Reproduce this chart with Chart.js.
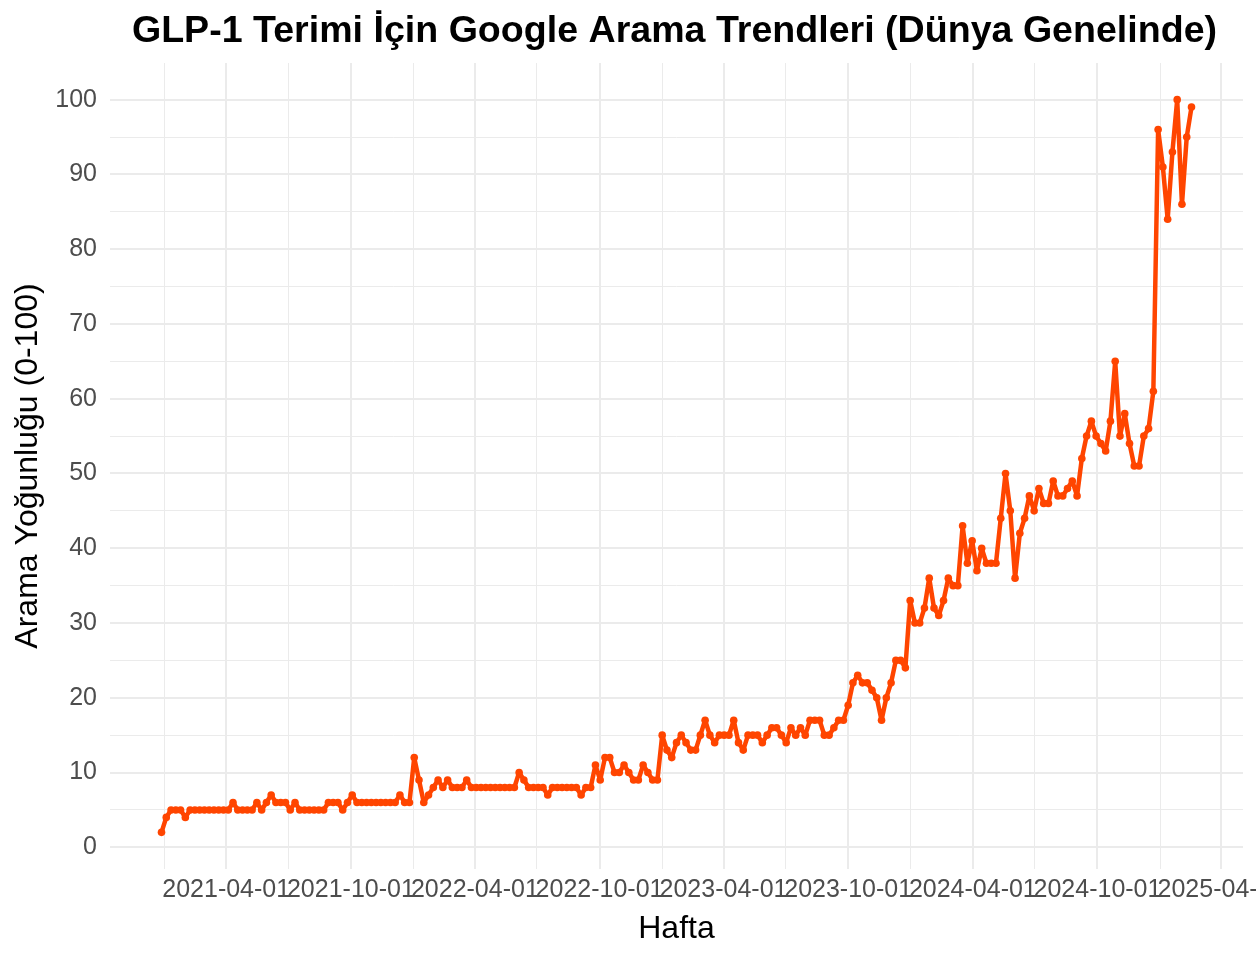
<!DOCTYPE html>
<html>
<head>
<meta charset="utf-8">
<script src="https://cdn.jsdelivr.net/npm/chart.js@4.4.1/dist/chart.umd.min.js"></script>
<style>
    body { margin: 0; background: #fff; }
</style>
</head>
<body>
<canvas id="trendChart" width="1256" height="958"></canvas>
<script>
const TITLE = "GLP-1 Terimi İçin Google Arama Trendleri (Dünya Genelinde)"
const FIRST_WEEK = '2020-12-27'
// weekly search interest, one value per week from FIRST_WEEK
const searchValues = [
    2, 4, 5, 5, 5, 4, 5, 5, 5, 5,
    5, 5, 5, 5, 5, 6, 5, 5, 5, 5,
    6, 5, 6, 7, 6, 6, 6, 5, 6, 5,
    5, 5, 5, 5, 5, 6, 6, 6, 5, 6,
    7, 6, 6, 6, 6, 6, 6, 6, 6, 6,
    7, 6, 6, 12, 9, 6, 7, 8, 9, 8,
    9, 8, 8, 8, 9, 8, 8, 8, 8, 8,
    8, 8, 8, 8, 8, 10, 9, 8, 8, 8,
    8, 7, 8, 8, 8, 8, 8, 8, 7, 8,
    8, 11, 9, 12, 12, 10, 10, 11, 10, 9,
    9, 11, 10, 9, 9, 15, 13, 12, 14, 15,
    14, 13, 13, 15, 17, 15, 14, 15, 15, 15,
    17, 14, 13, 15, 15, 15, 14, 15, 16, 16,
    15, 14, 16, 15, 16, 15, 17, 17, 17, 15,
    15, 16, 17, 17, 19, 22, 23, 22, 22, 21,
    20, 17, 20, 22, 25, 25, 24, 33, 30, 30,
    32, 36, 32, 31, 33, 36, 35, 35, 43, 38,
    41, 37, 40, 38, 38, 38, 44, 50, 45, 36,
    42, 44, 47, 45, 48, 46, 46, 49, 47, 47,
    48, 49, 47, 52, 55, 57, 55, 54, 53, 57,
    65, 55, 58, 54, 51, 51, 55, 56, 61, 96,
    91, 84, 93, 100, 86, 95, 99
]
const xMajorLabels = ['2021-04-01', '2021-10-01', '2022-04-01', '2022-10-01', '2023-04-01',
    '2023-10-01', '2024-04-01', '2024-10-01', '2025-04-01']
const xMinorDates = ['2021-01-01', '2021-07-01', '2022-01-01', '2022-07-01', '2023-01-01',
    '2023-07-01', '2024-01-01', '2024-07-01', '2025-01-01']
const yMajorTicks = [0, 10, 20, 30, 40, 50, 60, 70, 80, 90, 100]
const yMinorTicks = [5, 15, 25, 35, 45, 55, 65, 75, 85, 95]

const DAY = 86400000
const t0 = Date.parse(FIRST_WEEK)
const toDay = s => (Date.parse(s) - t0) / DAY
const points = searchValues.map((v, i) => ({ x: i * 7, y: v }))
const lastDay = (searchValues.length - 1) * 7
const xPad = lastDay * 0.05
const yPad = (Math.max(...searchValues) - Math.min(...searchValues)) * 0.05

const xTicks = xMajorLabels.map(s => ({ value: toDay(s), major: true, text: s }))
    .concat(xMinorDates.map(s => ({ value: toDay(s), major: false, text: '' })))
    .sort((a, b) => a.value - b.value)
const yTicks = yMajorTicks.map(v => ({ value: v, major: true, text: String(v) }))
    .concat(yMinorTicks.map(v => ({ value: v, major: false, text: '' })))
    .sort((a, b) => a.value - b.value)

const FONT = '"Liberation Sans", Arial, sans-serif'
const gridColor = ctx => '#EBEBEB'
const gridWidth = ctx => (ctx.tick && ctx.tick.major ? 2 : 1)

const centerTitle = {
    id: 'centerTitle',
    afterDraw(chart) {
        const { ctx, chartArea } = chart
        ctx.save()
        ctx.font = 'bold 37.6px ' + FONT
        ctx.fillStyle = '#000'
        ctx.textAlign = 'center'
        ctx.textBaseline = 'middle'
        ctx.fillText(TITLE, (chartArea.left + chartArea.right) / 2 - 2, 32)
        ctx.restore()
    }
}

new Chart(document.getElementById('trendChart'), {
    type: 'line',
    data: {
        datasets: [{
            data: points,
            borderColor: '#FF4500',
            backgroundColor: '#FF4500',
            borderWidth: 4.5,
            borderJoinStyle: 'round',
            borderCapStyle: 'round',
            pointRadius: 3.8,
            pointBorderWidth: 0,
            tension: 0
        }]
    },
    options: {
        responsive: false,
        animation: false,
        devicePixelRatio: 1,
        layout: { padding: { top: 63, right: 13, bottom: 0, left: 0 } },
        plugins: {
            legend: { display: false },
            tooltip: { enabled: false }
        },
        scales: {
            x: {
                type: 'linear',
                min: -xPad,
                max: lastDay + xPad,
                afterBuildTicks: scale => { scale.ticks = xTicks.map(t => ({ ...t })) },
                afterFit: scale => {
                    scale.height = 89
                    scale.paddingLeft = 0
                    scale.paddingRight = 0
                },
                grid: { color: gridColor, lineWidth: gridWidth, drawTicks: false },
                border: { display: false },
                ticks: {
                    autoSkip: false,
                    maxRotation: 0,
                    minRotation: 0,
                    padding: 6,
                    color: '#4D4D4D',
                    font: { family: FONT, size: 25 },
                    callback: function (value, index, ticks) {
                        return ticks[index].text
                    }
                },
                title: {
                    display: true,
                    text: 'Hafta',
                    color: '#000',
                    font: { family: FONT, size: 32 },
                    padding: { top: 0, bottom: 10 }
                }
            },
            y: {
                min: Math.min(...searchValues) - yPad,
                max: Math.max(...searchValues) + yPad,
                afterBuildTicks: scale => { scale.ticks = yTicks.map(t => ({ ...t })) },
                afterFit: scale => {
                    scale.width = 110
                    scale.paddingTop = 0
                    scale.paddingBottom = 0
                },
                grid: { color: gridColor, lineWidth: gridWidth, drawTicks: false },
                border: { display: false },
                ticks: {
                    autoSkip: false,
                    padding: 13,
                    color: '#4D4D4D',
                    font: { family: FONT, size: 25 },
                    callback: function (value, index, ticks) {
                        return ticks[index].text
                    }
                },
                title: {
                    display: true,
                    text: 'Arama Yoğunluğu (0-100)',
                    color: '#000',
                    font: { family: FONT, size: 32 },
                    padding: { top: 9, bottom: 0 }
                }
            }
        }
    },
    plugins: [centerTitle]
});
</script>
</body>
</html>
